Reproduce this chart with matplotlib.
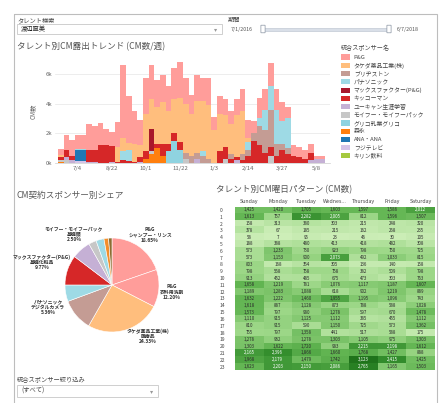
import numpy as np
import matplotlib
matplotlib.use("Agg")
import matplotlib.pyplot as plt
from matplotlib.patches import Rectangle, FancyBboxPatch
from matplotlib.colors import LinearSegmentedColormap

plt.rcParams['font.family'] = ['Noto Sans CJK JP', 'DejaVu Sans']

W, H = 443, 403

# ---- 週別CM数 (スポンサー別) ----
sponsors = ["P&G", "タケダ薬品工業(株)", "ブリヂストン", "パナソニック",
            "マックスファクター(P&G)", "キッコーマン", "ユーキャン生涯学習",
            "モイフー・モイフーパック", "グリコ乳業グリコ", "森永", "ANA・ANA",
            "フジテレビ", "キリン飲料"]
colors = ["#FF9D9A", "#FFBE7D", "#C49C94", "#9EDAE5", "#A8182B", "#D62728",
          "#C5B0D5", "#C7C7C7", "#8FD3E0", "#FF7F0E", "#1F77B4", "#D4C4E8",
          "#A5C93E"]

s_pg = [400, 1000, 1100, 950, 950, 1700, 1600, 1500, 1100, 950, 1650, 4900, 3150, 2200, 1700,
        2400, 2300, 1800, 1800, 1700, 2100, 2400, 1700, 1300, 1700, 1500, 1800, 900, 1200, 1100,
        900, 1100, 1500, 1200, 800, 1400, 1400, 1500, 1400, 1300, 800, 700, 700, 600, 600, 150, 150]
s_takeda = [150, 0, 0, 0, 0, 0, 0, 0, 0, 0, 1000, 900, 500, 1200, 800,
            2500, 2000, 2500, 2800, 2200, 2300, 3000, 3300, 2800, 3500, 3400, 3600, 2200, 2500, 2100,
            2000, 2800, 2900, 300, 0, 0, 0, 0, 0, 0, 0, 0, 0, 0, 0, 0, 0]
s_bridge = [0, 0, 0, 0, 0, 0, 0, 0, 0, 0, 0, 0, 0, 0, 0,
            0, 0, 0, 0, 0, 0, 0, 400, 500, 400, 500, 300, 0, 0, 0,
            300, 0, 400, 400, 500, 1300, 1500, 2500, 800, 400, 400, 0, 0, 0, 0, 0, 0]
s_pana = [0, 0, 0, 100, 100, 0, 0, 0, 0, 0, 0, 600, 700, 0, 0,
          0, 0, 0, 0, 0, 0, 0, 0, 0, 0, 300, 0, 0, 0, 0,
          0, 0, 0, 500, 0, 500, 1400, 1600, 2300, 1500, 2000, 0, 0, 0, 0, 0, 0]
s_max = [0, 0, 0, 0, 0, 0, 0, 0, 0, 0, 0, 0, 0, 0, 0,
         0, 1500, 0, 0, 0, 0, 0, 0, 0, 0, 0, 0, 0, 0, 0,
         0, 0, 0, 0, 0, 0, 0, 0, 0, 0, 0, 0, 0, 0, 0, 0, 0]
s_kikko = [200, 500, 250, 0, 0, 800, 800, 1200, 1200, 1050, 100, 200, 150, 100, 300,
           500, 0, 300, 800, 500, 500, 500, 0, 0, 0, 0, 0, 0, 800, 800,
           300, 200, 200, 500, 1500, 1200, 700, 600, 500, 900, 600, 500, 400, 300, 500, 0, 0]
s_ucan = [0, 200, 200, 0, 0, 100, 100, 0, 0, 100, 0, 0, 0, 0, 100,
          0, 0, 0, 0, 0, 0, 0, 0, 0, 300, 0, 0, 0, 0, 0,
          0, 200, 0, 0, 0, 0, 0, 0, 0, 0, 0, 0, 0, 0, 200, 300, 300]
s_moifu = [100, 200, 0, 0, 0, 0, 0, 0, 0, 0, 0, 0, 0, 0, 0,
           0, 200, 0, 0, 0, 0, 0, 300, 0, 0, 0, 0, 0, 0, 300,
           0, 0, 0, 0, 0, 0, 0, 500, 0, 0, 0, 0, 0, 0, 0, 0, 0]
s_glico = [0, 0, 0, 0, 0, 0, 0, 0, 0, 0, 0, 0, 0, 0, 0,
           0, 0, 0, 0, 800, 1500, 900, 0, 0, 0, 0, 0, 0, 0, 0,
           0, 0, 0, 0, 0, 0, 0, 0, 0, 0, 0, 0, 0, 0, 0, 0, 0]
s_morinaga = [100, 0, 0, 0, 0, 0, 0, 0, 0, 0, 0, 0, 0, 0, 0,
              300, 600, 1000, 500, 0, 0, 0, 0, 0, 0, 0, 0, 0, 0, 0,
              0, 0, 0, 0, 0, 0, 0, 0, 0, 0, 0, 0, 0, 0, 0, 0, 0]
s_ana = [0, 0, 0, 700, 700, 0, 0, 0, 0, 0, 0, 0, 0, 0, 0,
         0, 0, 0, 0, 0, 0, 0, 0, 0, 0, 0, 0, 0, 0, 0,
         0, 0, 0, 0, 0, 0, 0, 0, 0, 0, 0, 0, 0, 0, 0, 0, 0]
s_fuji = [0, 0, 0, 150, 150, 0, 0, 0, 0, 0, 0, 0, 0, 0, 0,
          0, 0, 0, 0, 0, 0, 0, 0, 0, 0, 0, 0, 0, 0, 0,
          0, 0, 0, 0, 0, 0, 0, 0, 0, 0, 0, 0, 0, 0, 0, 0, 0]
s_kirin = [0] * 47

series = [s_pg, s_takeda, s_bridge, s_pana, s_max, s_kikko, s_ucan, s_moifu,
          s_glico, s_morinaga, s_ana, s_fuji, s_kirin]
# 積み上げ順 (下から)
stack_order = [12, 11, 10, 9, 8, 7, 6, 5, 4, 2, 3, 1, 0]

tick_pos = [3, 9, 15, 21, 27, 33, 39, 45]
tick_labels = ["7/4", "8/22", "10/1", "11/22", "1/3", "2/14", "3/27", "5/8"]

# ---- 円グラフ ----
pie_vals = [18.65, 12.20, 24.33, 10.5, 5.36, 9.77, 6.2, 2.50, 2.6, 1.5, 1.1]
pie_colors = ["#FF9D9A", "#FF9D9A", "#FFBE7D", "#C49C94", "#9EDAE5", "#D62728",
              "#C5B0D5", "#C7C7C7", "#9EDAE5", "#F28E2B", "#8C6D31"]
pie_texts = ["P&G\nシャンプー・リンス\n18.65%", "P&G\n衣料用洗剤\n12.20%",
             "タケダ薬品工業(株)\n医療品\n24.33%", "パナソニック\nデジタルカメラ\n5.36%",
             "マックスファクター(P&G)\n基礎化粧品\n9.77%", "モイフー・モイフーパック\n基礎類\n2.50%"]

# ---- 曜日×時間帯 ----
days = ["Sunday", "Monday", "Tuesday", "Wednes...", "Thursday", "Friday", "Saturday"]
hours = [str(h) for h in range(24)]
heat = np.array([
    [1425, 1420, 1705, 1603, 1597, 1586, 2012],
    [1613, 757, 2282, 2005, 812, 1596, 1507],
    [158, 313, 380, 303, 215, 248, 320],
    [378, 67, 185, 215, 162, 268, 235],
    [58, 7, 95, 23, 46, 30, 105],
    [188, 388, 480, 413, 418, 482, 308],
    [573, 1233, 730, 923, 798, 750, 725],
    [573, 1153, 900, 2073, 492, 1033, 815],
    [803, 168, 354, 305, 136, 140, 158],
    [798, 568, 758, 758, 382, 509, 798],
    [913, 452, 485, 675, 473, 303, 763],
    [1658, 1219, 781, 1076, 1117, 1187, 1607],
    [1189, 1283, 1088, 618, 902, 1219, 889],
    [1632, 1222, 1460, 1955, 1195, 1096, 743],
    [1618, 887, 1128, 873, 788, 588, 1028],
    [1573, 797, 980, 1278, 597, 670, 1478],
    [1110, 915, 1125, 1112, 385, 455, 1112],
    [810, 915, 590, 1150, 725, 573, 1362],
    [755, 797, 1358, 441, 517, 588, 175],
    [1278, 962, 1278, 1303, 1105, 975, 1303],
    [1303, 1622, 1720, 983, 2215, 2198, 1612],
    [2165, 2396, 1866, 1660, 1768, 1427, 888],
    [1968, 2179, 1479, 1742, 3123, 2415, 1425],
    [1623, 2203, 2150, 2086, 2765, 1165, 1503],
])


def box(x0, y0, x1, y1):
    return [x0 / W, 1 - y1 / H, (x1 - x0) / W, (y1 - y0) / H]


fig = plt.figure(figsize=(W / 100, H / 100), dpi=100)
fig.patch.set_facecolor("white")

# 背景 (枠・フィルター類)
bg = fig.add_axes([0, 0, 1, 1])
bg.set_xlim(0, W)
bg.set_ylim(H, 0)
bg.axis("off")
bg.set_zorder(-1)
bg.add_patch(Rectangle((14, 14), 423, 395, fill=False, ec="#bdbdbd", lw=0.8))
bg.text(17, 20, "タレント検索", fontsize=4.5, color="#444", va="center")
bg.add_patch(Rectangle((17, 24), 205, 10, fc="white", ec="#c8c8c8", lw=0.6))
bg.text(21, 29, "渡辺直美", fontsize=4.5, color="#222", va="center")
bg.text(216, 29, "▾", fontsize=4.5, color="#999", va="center", ha="center")
bg.text(228, 20, "期間", fontsize=4.5, color="#444", va="center")
bg.text(231, 29, "7/1/2016", fontsize=3.8, color="#555", va="center")
bg.add_patch(Rectangle((263, 27.5), 126, 3, fc="#d9dfe8", ec="#b8c0cc", lw=0.4))
for kx in (263, 389):
    bg.add_patch(FancyBboxPatch((kx - 1.8, 25.5), 3.6, 7, boxstyle="round,pad=0.3",
                                fc="white", ec="#8a94a3", lw=0.5))
bg.text(397, 29, "6/7/2018", fontsize=3.8, color="#555", va="center")

bg.text(17, 47, "タレント別CM露出トレンド (CM数/週)", fontsize=6.2, color="#555", va="center")
bg.text(17, 195, "CM契約スポンサー別シェア", fontsize=6.2, color="#555", va="center")
bg.text(216, 190, "タレント別CM曜日パターン (CM数)", fontsize=6.2, color="#555", va="center")

bg.text(17, 379, "統合スポンサー絞り込み", fontsize=4.5, color="#444", va="center")
bg.add_patch(Rectangle((17, 385), 141, 12, fc="white", ec="#c8c8c8", lw=0.6))
bg.text(21, 391, "(すべて)", fontsize=4.5, color="#444", va="center")
bg.text(152, 391, "▾", fontsize=4.5, color="#999", va="center", ha="center")

# ---- 積み上げ棒グラフ ----
ax1 = fig.add_axes(box(55, 59, 330, 163))
x = np.arange(len(s_pg))
bottom = np.zeros(len(x))
handles = {}
for k in stack_order:
    vals = np.array(series[k], dtype=float)
    bars = ax1.bar(x, vals, bottom=bottom, width=1.0, color=colors[k], linewidth=0, zorder=2)
    handles[k] = bars
    bottom += vals
ax1.set_xlim(-1.0, 47.4)
ax1.set_ylim(0, 7000)
ax1.set_yticks([0, 2000, 4000, 6000])
ax1.set_yticklabels(["0k", "2k", "4k", "6k"], fontsize=4.3, color="#666")
ax1.set_xticks(tick_pos)
ax1.set_xticklabels(tick_labels, fontsize=4.3, color="#666")
ax1.tick_params(length=0, pad=2)
ax1.grid(axis="y", color="#e6e6e6", lw=0.5, zorder=0)
for sp in ax1.spines.values():
    sp.set_visible(False)
ax1.spines["bottom"].set_visible(True)
ax1.spines["bottom"].set_color("#cccccc")
ax1.spines["bottom"].set_linewidth(0.5)
ax1.set_ylabel("CM数", fontsize=4.5, color="#666", labelpad=6)

leg = fig.legend([handles[k] for k in range(13)], sponsors, loc="upper left",
                 bbox_to_anchor=(341 / W, 1 - 44 / H), bbox_transform=fig.transFigure,
                 fontsize=4.2, title="統合スポンサー名", title_fontsize=4.4,
                 frameon=False, handlelength=1.6, handleheight=1.0,
                 handletextpad=0.6, labelspacing=0.42, borderaxespad=0,
                 borderpad=0)
leg._legend_box.align = "left"
for t in leg.get_texts():
    t.set_color("#444")
leg.get_title().set_color("#444")

# ---- 円グラフ ----
ax2 = fig.add_axes(box(65, 238, 159, 332))
ax2.pie(pie_vals, colors=pie_colors, startangle=90, counterclock=False,
        radius=1.0, wedgeprops=dict(edgecolor="white", linewidth=0.4))
ax2.set_xlim(-1.0, 1.0)
ax2.set_ylim(-1.0, 1.0)
ax2.set_aspect("equal")
label_xy = [(150, 235), (172, 292), (148, 336), (48, 307), (42, 262), (74, 234)]
for (lx, ly), txt in zip(label_xy, pie_texts):
    bg.text(lx, ly, txt, fontsize=3.5, color="#333", ha="center", va="center",
            linespacing=1.05, fontweight="bold")

# ---- ヒートマップ ----
cmap = LinearSegmentedColormap.from_list("grn", ["#cdeeb8", "#9ad685", "#62b552", "#2f8a2a", "#1c6e18"])
ax3 = fig.add_axes(box(235, 206.5, 435, 370))
ax3.imshow(heat, cmap=cmap, vmin=0, vmax=3300, aspect="auto", interpolation="nearest")
for i in range(heat.shape[0]):
    for j in range(heat.shape[1]):
        v = heat[i, j]
        ax3.text(j, i, f"{v:,}", ha="center", va="center", fontsize=3.2,
                 color="white" if v >= 2000 else "#2a2a2a")
ax3.xaxis.tick_top()
ax3.set_xticks(range(7))
ax3.set_xticklabels(days, fontsize=3.8, color="#444")
ax3.set_yticks(range(24))
ax3.set_yticklabels(hours, fontsize=3.6, color="#444")
for lab in ax3.get_yticklabels():
    lab.set_horizontalalignment("left")
ax3.tick_params(length=0, pad=1.5)
ax3.tick_params(axis="y", pad=11)
for sp in ax3.spines.values():
    sp.set_visible(False)

fig.savefig("out.png", dpi=100)
